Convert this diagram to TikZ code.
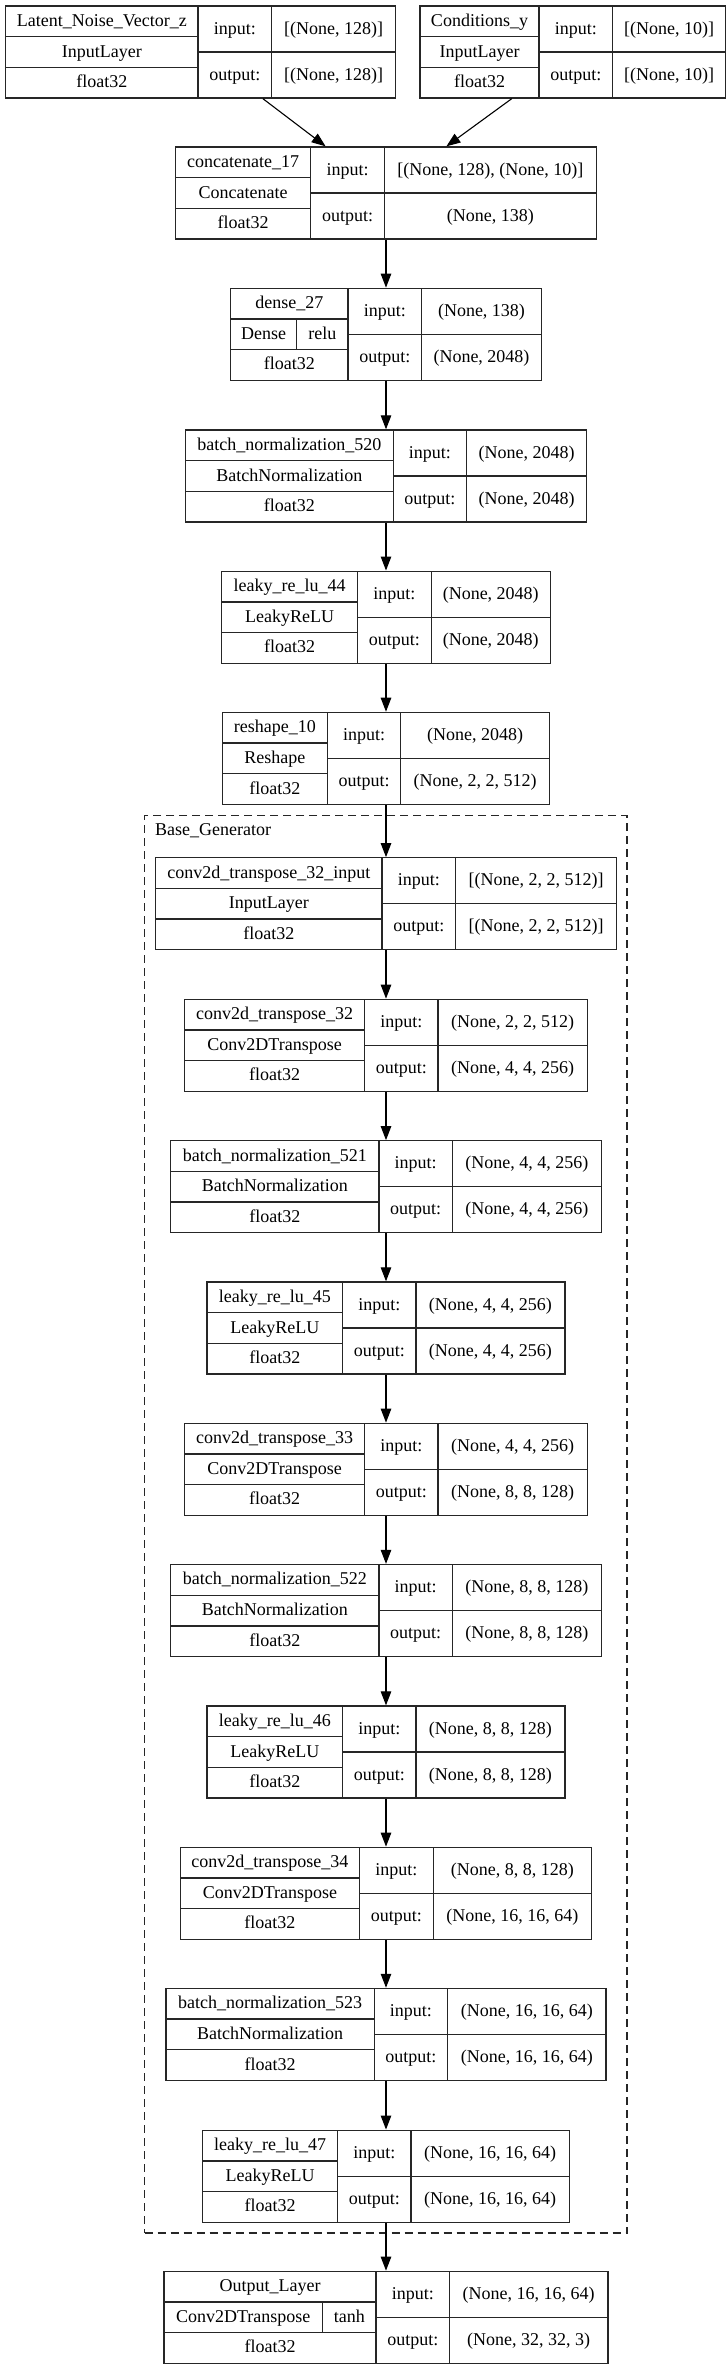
\documentclass[tikz,border=0pt]{standalone}
\usepackage{fontspec}
\setmainfont{Liberation Serif}
\usetikzlibrary{arrows.meta,calc}
\tikzset{
  lay/.style={draw=black!85, line width=1.35pt, inner sep=0pt, rectangle},
  gline/.style={draw=black!85, line width=1.3pt},
  lbl/.style={inner sep=0pt, text height=12pt, text depth=2pt, font=\fontsize{18}{20}\selectfont},
  glbl/.style={inner sep=0pt, font=\fontsize{18}{20}\selectfont},
  arr/.style={draw=black, line width=1.1pt, -{Triangle[length=14pt,width=10.5pt]}},
  grp/.style={draw=black!85, line width=1.2pt, dash pattern=on 8pt off 5pt, inner sep=0pt, rectangle},
}
% name, left, c1, right, top
\newcommand\lbox[5]{%
  \def\bn{#1}\def\bl{#2}\def\bc{#3}\def\br{#4}\def\bt{#5}%
  \pgfmathsetmacro\bd{#3+73.5}%
  \pgfmathsetmacro\bb{#5+92}%
  \pgfmathsetmacro\bw{#4-#2}%
  \pgfmathsetmacro\bx{(#2+#4)/2}%
  \pgfmathsetmacro\by{#5+46}%
  \pgfmathsetmacro\rA{#5+92/3}%
  \pgfmathsetmacro\rB{#5+184/3}%
  \node[lay, minimum width={\bw*1pt}, minimum height=92pt] (#1) at (\bx,\by) {};
  \draw[gline] (\bc,\bt) -- (\bc,\bb) (\bd,\bt) -- (\bd,\bb)
     (\bl,\rA) -- (\bc,\rA) (\bl,\rB) -- (\bc,\rB) (\bc,\by) -- (\br,\by);
}
% name text, class text, dtype, input, output
\newcommand\ltext[5]{%
  \pgfmathsetmacro\tx{(\bl+\bc)/2}%
  \pgfmathsetmacro\ix{(\bc+\bd)/2}%
  \pgfmathsetmacro\vx{(\bd+\br)/2}%
  \pgfmathsetmacro\yA{\bt+92/6}%
  \pgfmathsetmacro\yB{\bt+46}%
  \pgfmathsetmacro\yC{\bt+5*92/6}%
  \pgfmathsetmacro\yI{\bt+23}%
  \pgfmathsetmacro\yO{\bt+69}%
  \node[lbl] (\bn-name) at (\tx,\yA) {#1};
  \node[lbl] (\bn-dtype) at (\tx,\yC) {#3};
  \node[lbl] (\bn-inlbl) at (\ix,\yI) {input:};
  \node[lbl] (\bn-outlbl) at (\ix,\yO) {output:};
  \node[lbl] (\bn-inval) at (\vx,\yI) {#4};
  \node[lbl] (\bn-outval) at (\vx,\yO) {#5};
  \def\tmp{#2}\ifx\tmp\empty\else
  \node[lbl] (\bn-class) at (\tx,\yB) {#2};
  \fi
}
% split middle row: divider x, class, activation
\newcommand\lsplit[3]{%
  \pgfmathsetmacro\sA{(\bl+#1)/2}%
  \pgfmathsetmacro\sB{(#1+\bc)/2}%
  \pgfmathsetmacro\yB{\bt+46}%
  \pgfmathsetmacro\rA{\bt+92/3}%
  \pgfmathsetmacro\rB{\bt+184/3}%
  \draw[gline] (#1,\rA) -- (#1,\rB);
  \node[lbl] (\bn-class) at (\sA,\yB) {#2};
  \node[lbl] (\bn-act) at (\sB,\yB) {#3};
}
\begin{document}
\begin{tikzpicture}[x=1pt,y=-1pt]
\useasboundingbox (0,0) rectangle (728,2369);
\fill[white] (0,0) rectangle (728,2369);

% group frame
\node[grp, minimum width=482.5pt, minimum height=1417.5pt] (basegen) at (385.75,1524.25) {};
\node[glbl, anchor=base west] (basegen-label) at (155,835.7) {Base\_Generator};

\lbox{lat}{5.6}{198}{395.7}{6}
\ltext{Latent\_Noise\_Vector\_z}{InputLayer}{float32}{[(None, 128)]}{[(None, 128)]}

\lbox{cond}{420}{539}{725.7}{6}
\ltext{Conditions\_y}{InputLayer}{float32}{[(None, 10)]}{[(None, 10)]}

\lbox{concat}{175.5}{310.8}{596.5}{147}
\ltext{concatenate\_17}{Concatenate}{float32}{[(None, 128), (None, 10)]}{(None, 138)}

\lbox{dense}{230.6}{348.1}{541.4}{288.3}
\ltext{dense\_27}{}{float32}{(None, 138)}{(None, 2048)}
\lsplit{296.8}{Dense}{relu}

\lbox{bn520}{185.5}{393.2}{586.5}{430}
\ltext{batch\_normalization\_520}{BatchNormalization}{float32}{(None, 2048)}{(None, 2048)}

\lbox{lr44}{221.65}{357.65}{550.35}{571.2}
\ltext{leaky\_re\_lu\_44}{LeakyReLU}{float32}{(None, 2048)}{(None, 2048)}

\lbox{resh}{222.65}{327.25}{549.35}{712.4}
\ltext{reshape\_10}{Reshape}{float32}{(None, 2048)}{(None, 2, 2, 512)}

\lbox{c32in}{155.5}{382.1}{616.5}{857.8}
\ltext{conv2d\_transpose\_32\_input}{InputLayer}{float32}{[(None, 2, 2, 512)]}{[(None, 2, 2, 512)]}

\lbox{c32}{184.75}{364.55}{587.25}{999.3}
\ltext{conv2d\_transpose\_32}{Conv2DTranspose}{float32}{(None, 2, 2, 512)}{(None, 4, 4, 256)}

\lbox{bn521}{170.7}{378.9}{601.3}{1140.8}
\ltext{batch\_normalization\_521}{BatchNormalization}{float32}{(None, 4, 4, 256)}{(None, 4, 4, 256)}

\lbox{lr45}{207.1}{342.5}{564.9}{1282}
\ltext{leaky\_re\_lu\_45}{LeakyReLU}{float32}{(None, 4, 4, 256)}{(None, 4, 4, 256)}

\lbox{c33}{184.75}{364.55}{587.25}{1423.3}
\ltext{conv2d\_transpose\_33}{Conv2DTranspose}{float32}{(None, 4, 4, 256)}{(None, 8, 8, 128)}

\lbox{bn522}{170.7}{378.9}{601.3}{1564.5}
\ltext{batch\_normalization\_522}{BatchNormalization}{float32}{(None, 8, 8, 128)}{(None, 8, 8, 128)}

\lbox{lr46}{207.1}{342.5}{564.9}{1706}
\ltext{leaky\_re\_lu\_46}{LeakyReLU}{float32}{(None, 8, 8, 128)}{(None, 8, 8, 128)}

\lbox{c34}{180.25}{359.65}{591.75}{1847.3}
\ltext{conv2d\_transpose\_34}{Conv2DTranspose}{float32}{(None, 8, 8, 128)}{(None, 16, 16, 64)}

\lbox{bn523}{166.05}{374.15}{605.95}{1988.4}
\ltext{batch\_normalization\_523}{BatchNormalization}{float32}{(None, 16, 16, 64)}{(None, 16, 16, 64)}

\lbox{lr47}{202.65}{337.55}{569.35}{2130.2}
\ltext{leaky\_re\_lu\_47}{LeakyReLU}{float32}{(None, 16, 16, 64)}{(None, 16, 16, 64)}

\lbox{outl}{164.15}{376.05}{607.85}{2271.3}
\ltext{Output\_Layer}{}{float32}{(None, 16, 16, 64)}{(None, 32, 32, 3)}
\lsplit{322.45}{Conv2DTranspose}{tanh}

% connectors
\draw[arr] ($(lat.south west)!0.659!(lat.south east)$) -- ($(concat.north west)!0.357!(concat.north east)$);
\draw[arr] ($(cond.south west)!0.301!(cond.south east)$) -- ($(concat.north west)!0.643!(concat.north east)$);
\draw[arr] (concat.south) -- (dense.north);
\draw[arr] (dense.south) -- (bn520.north);
\draw[arr] (bn520.south) -- (lr44.north);
\draw[arr] (lr44.south) -- (resh.north);
\draw[arr] (resh.south) -- (c32in.north);
\draw[arr] (c32in.south) -- (c32.north);
\draw[arr] (c32.south) -- (bn521.north);
\draw[arr] (bn521.south) -- (lr45.north);
\draw[arr] (lr45.south) -- (c33.north);
\draw[arr] (c33.south) -- (bn522.north);
\draw[arr] (bn522.south) -- (lr46.north);
\draw[arr] (lr46.south) -- (c34.north);
\draw[arr] (c34.south) -- (bn523.north);
\draw[arr] (bn523.south) -- (lr47.north);
\draw[arr] (lr47.south) -- (outl.north);
\end{tikzpicture}
\end{document}
